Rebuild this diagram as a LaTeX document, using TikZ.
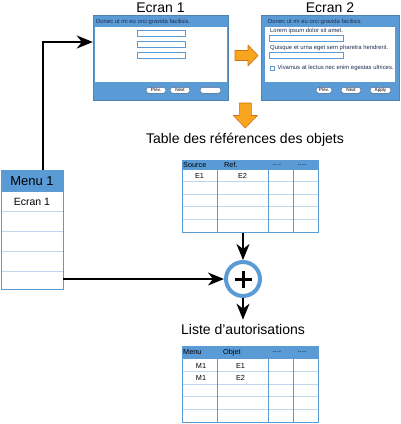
\documentclass[tikz,border=0pt]{standalone}
\usepackage{fontspec}
\setmainfont{Liberation Sans}
\usetikzlibrary{arrows.meta,positioning,calc}
\definecolor{winblue}{RGB}{91,155,213}
\definecolor{gridblue}{RGB}{189,215,238}
\definecolor{btnline}{RGB}{70,100,140}
\definecolor{wintxt}{RGB}{30,45,80}
\definecolor{fillorange}{RGB}{248,164,30}
\definecolor{edgeorange}{RGB}{205,115,20}
\tikzset{
  window/.style={fill=winblue, draw=winblue!85!black, line width=0.4pt, inner sep=0pt},
  pane/.style={fill=white, inner sep=0pt},
  field/.style={draw=winblue, fill=white, line width=0.8pt, inner sep=0pt, minimum height=6pt},
  btn/.style={draw=btnline, fill=white, rounded corners=3pt, inner sep=0pt,
    minimum height=6pt, font=\fontsize{4.6}{5}\selectfont},
  wintext/.style={font=\fontsize{5.9}{7}\selectfont, anchor=west, inner sep=0pt, text=wintxt},
  wintitle/.style={font=\fontsize{14}{16}\selectfont, inner sep=0pt},
  celltext/.style={font=\fontsize{7.3}{8}\selectfont, inner sep=0pt},
  tablebox/.style={draw=winblue, line width=0.8pt, inner sep=0pt, minimum width=136pt},
  arrow/.style={-{Stealth[length=16pt, width=13pt, inset=5pt]}, line width=2pt},
  bigarrow/.style={fill=fillorange, draw=edgeorange, line width=0.6pt, line join=round},
}
\begin{document}
\begin{tikzpicture}[x=1pt, y=-1pt]
  \useasboundingbox (0,0) rectangle (400,424);
  % screen 1
  \node[window, minimum width=135pt, minimum height=85pt] (ecran1) at (160.5,57.5) {};
  \node[pane, minimum width=132pt, minimum height=55pt] (pane1) at (161,54.5) {};
  \node[wintitle, above=2pt of ecran1] (title1) {Ecran 1};
  \node[wintext] (bar1) at (96,21.5) {Donec ut mi eu orci gravida facilisis.};
  \foreach \y/\name in {33/fa,44/fb,55.8/fc}
    \node[field, minimum width=48pt] (\name) at (161,\y) {};
  \foreach \x/\w/\name/\lbl in {156/20/prev1/Prev.,180/20/next1/Next,210.5/21/blank1/{}}
    \node[btn, minimum width=\w pt] (\name) at (\x,90.3) {\lbl};
  % screen 2
  \node[window, minimum width=138pt, minimum height=85pt] (ecran2) at (330,57.5) {};
  \node[pane, minimum width=130pt, minimum height=55pt] (pane2) at (330,54.5) {};
  \node[wintitle, above=2pt of ecran2] (title2) {Ecran 2};
  \node[wintext] (bar2) at (268,21.7) {Donec ut mi eu orci gravida facilisis.};
  \node[wintext] (lorem) at (270,30.5) {Lorem ipsum dolor sit amet.};
  \node[field, minimum width=74pt] (fd) at (306,38.5) {};
  \node[wintext] (quisque) at (270,48) {Quisque et urna eget sem pharetra hendrerit.};
  \node[field, minimum width=74pt] (fe) at (306,55) {};
  \node[field, minimum width=4.5pt, minimum height=4.5pt] (check) at (272.3,68.3) {};
  \node[wintext, right=2.5pt of check] (vivamus) {Vivamus at lectus nec enim egestas ultrices.};
  \foreach \x/\w/\name/\lbl in {324/16/prev2/Prev.,351/20/next2/Next,380.5/21/apply2/Apply}
    \node[btn, minimum width=\w pt] (\name) at (\x,90.3) {\lbl};
  % orange arrows
  \coordinate (goright) at (246.5,55.5);
  \draw[bigarrow] ($(goright)+(-11.5,-5)$) -- ++(13,0) -- ++(0,-5.5) -- ($(goright)+(11.5,0)$)
    -- ($(goright)+(1.5,10.5)$) -- ++(0,-5.5) -- ++(-13,0) -- cycle;
  \coordinate (godown) at (245.3,115.5);
  \draw[bigarrow] ($(godown)+(-6,-12.5)$) -- ++(12,0) -- ++(0,12.5) -- ++(6,0)
    -- ($(godown)+(0,12.5)$) -- ($(godown)+(-12,0)$) -- ++(6,0) -- cycle;
  % table of references
  \node[wintitle] (reftitle) at (245,140) {Table des références des objets};
  \node[tablebox, minimum height=72.5pt] (tab1) at (250,196.25) {};
  \fill[winblue] (182,160) rectangle (318,170);
  \foreach \y in {181.7,194.3,206.7,219.3}
    \draw[gridblue, line width=0.8pt] (182,\y) -- (318,\y);
  \foreach \x in {217,268,293}
    \draw[winblue, line width=0.8pt] (\x,160) -- (\x,232.5);
  \node[tablebox, minimum height=72.5pt] at (tab1) {};
  \node[celltext, anchor=west] (h11) at (183,165) {Source};
  \node[celltext, anchor=west] (h12) at (224,165) {Ref.};
  \node[celltext] (h13) at (277,165) {....};
  \node[celltext] (h14) at (302,165) {....};
  \node[celltext] (c11) at (199.5,176) {E1};
  \node[celltext] (c12) at (242.5,176) {E2};
  % menu
  \node[draw=winblue, line width=0.8pt, inner sep=0pt, minimum width=62pt, minimum height=119pt] (menu) at (32,229.5) {};
  \fill[winblue] (1,170) rectangle (63,191.7);
  \foreach \y in {211.7,231.7,251,271}
    \draw[gridblue, line width=0.8pt] (1,\y) -- (63,\y);
  \node[draw=winblue, line width=0.8pt, inner sep=0pt, minimum width=62pt, minimum height=119pt] at (menu) {};
  \node[font=\fontsize{13}{14}\selectfont, inner sep=0pt] (menuhead) at (32,181) {Menu 1};
  \node[font=\fontsize{10.5}{12}\selectfont, inner sep=0pt] (menuitem) at (32,201.5) {Ecran 1};
  % combine
  \node[circle, draw=winblue, line width=4pt, fill=white, minimum size=34pt] (plus) at (243,279) {};
  \draw[line width=3pt] ([xshift=-8.5pt]plus.center) -- ([xshift=8.5pt]plus.center);
  \draw[line width=3pt] ([yshift=-8.5pt]plus.center) -- ([yshift=8.5pt]plus.center);
  \node[wintitle] (listtitle) at (243,329) {Liste d'autorisations};
  % list of authorisations
  \node[tablebox, minimum height=76.7pt] (tab2) at (250,384.35) {};
  \fill[winblue] (182,346) rectangle (318,359.3);
  \foreach \y in {371.7,384,396.7,409.3}
    \draw[gridblue, line width=0.8pt] (182,\y) -- (318,\y);
  \foreach \x in {217,268,293}
    \draw[winblue, line width=0.8pt] (\x,346) -- (\x,422.7);
  \node[tablebox, minimum height=76.7pt] at (tab2) {};
  \node[celltext, anchor=west] (h21) at (183,352.5) {Menu};
  \node[celltext, anchor=west] (h22) at (223,352.5) {Objet};
  \node[celltext] (h23) at (277,352.5) {....};
  \node[celltext] (h24) at (302,352.5) {....};
  \node[celltext] (c21) at (201,365.5) {M1};
  \node[celltext] (c22) at (240.5,365.5) {E1};
  \node[celltext] (c31) at (201,378) {M1};
  \node[celltext] (c32) at (240.5,378) {E2};
  % connectors
  \draw[arrow] ([xshift=11pt]menu.north) |- ([yshift=15.5pt]ecran1.west);
  \draw[arrow] (menu.east |- plus) -- (plus);
  \draw[arrow] (plus |- tab1.south) -- (plus);
  \draw[arrow] (plus) -- ([yshift=4pt]listtitle.north);
\end{tikzpicture}
\end{document}
